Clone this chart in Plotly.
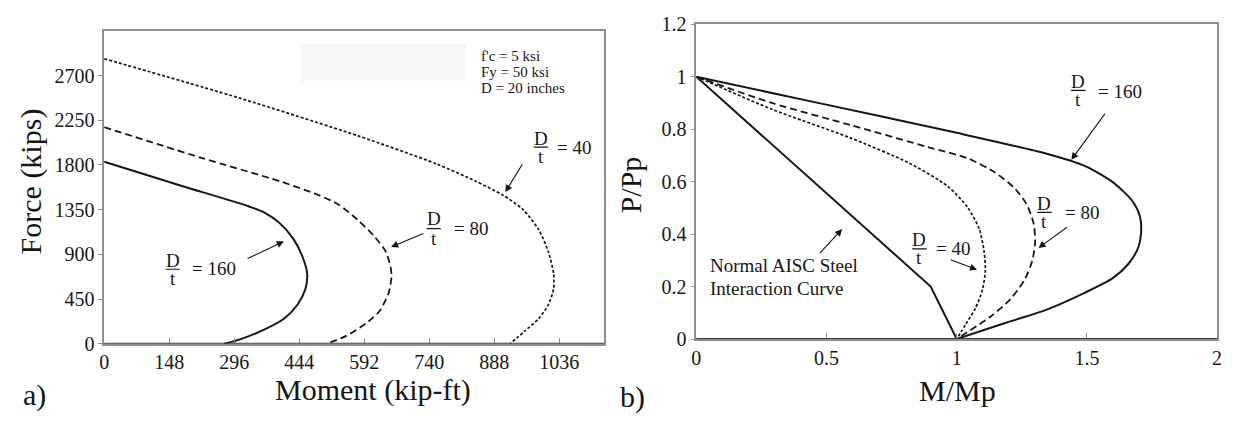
import plotly.graph_objects as go

W, H = 1235, 423
SERIF = "Liberation Serif, Times New Roman, serif"
INK = "#161616"
FRAME = "#8f8f8f"

# ---- panel a) : dimensional interaction curves ----
mom_160 = [0, 177, 328, 364, 400, 431, 451, 462, 458, 440, 409, 364, 311, 273]
frc_160 = [1832, 1589, 1385, 1322, 1212, 1054, 881, 708, 551, 393, 252, 142, 47, 0]

mom_80 = [0, 221, 400, 489, 534, 578, 614, 641, 652, 654, 648, 627, 596, 551, 506]
frc_80 = [2181, 1872, 1636, 1495, 1400, 1243, 1086, 928, 771, 677, 519, 330, 205, 79, 0]

mom_40 = [0, 311, 578, 757, 846, 908, 953, 989, 1011, 1023, 1023, 1011, 989, 957, 924]
frc_40 = [2870, 2470, 2093, 1810, 1636, 1495, 1353, 1149, 928, 708, 551, 393, 252, 126, 0]

a_xticks = [0, 148, 296, 444, 592, 740, 888, 1036]
a_yticks = [0, 450, 900, 1350, 1800, 2250, 2700]

# ---- panel b) : normalised interaction curves ----
m_aisc = [0, 0.9, 1.0]
p_aisc = [1.0, 0.2, 0.0]

m_n160 = [0, 0.44, 1.0, 1.343, 1.493, 1.598, 1.674, 1.704, 1.708, 1.696, 1.659, 1.598, 1.493, 1.343, 1.192, 1.0]
p_n160 = [1.0, 0.906, 0.786, 0.707, 0.659, 0.599, 0.527, 0.466, 0.406, 0.346, 0.286, 0.231, 0.177, 0.111, 0.063, 0.0]

m_n80 = [0, 0.29, 0.591, 0.892, 1.042, 1.147, 1.222, 1.268, 1.295, 1.301, 1.29, 1.26, 1.207, 1.132, 1.0]
p_n80 = [1.0, 0.9, 0.816, 0.731, 0.689, 0.635, 0.575, 0.514, 0.442, 0.37, 0.298, 0.225, 0.153, 0.087, 0.0]

m_n40 = [0, 0.29, 0.591, 0.817, 0.967, 1.042, 1.087, 1.105, 1.11, 1.099, 1.072, 1.035, 1.0]
p_n40 = [1.0, 0.876, 0.767, 0.671, 0.581, 0.502, 0.418, 0.334, 0.261, 0.189, 0.117, 0.057, 0.0]

b_xticks = [0, 0.5, 1, 1.5, 2]
b_xlabels = ["0", "0.5", "1", "1.5", "2"]
b_yticks = [0, 0.2, 0.4, 0.6, 0.8, 1.0, 1.2]
b_ylabels = ["0", "0.2", "0.4", "0.6", "0.8", "1", "1.2"]

material_notes = ["f'c = 5 ksi", "Fy = 50 ksi", "D = 20 inches"]
aisc_note = ["Normal AISC Steel", "Interaction Curve"]

fig = go.Figure()

solid = dict(color=INK, width=2.0)
dashed = dict(color=INK, width=1.8, dash="7px,4px")
dotted = dict(color=INK, width=1.7, dash="3px,2px")

def curve(x, y, line, xa, ya, spline=True):
    fig.add_trace(go.Scatter(
        x=x, y=y, mode="lines", xaxis=xa, yaxis=ya,
        line=dict(shape="spline", smoothing=0.7, **line) if spline else line,
        hoverinfo="skip", showlegend=False))

curve(mom_160, frc_160, solid, "x", "y")
curve(mom_80, frc_80, dashed, "x", "y")
curve(mom_40, frc_40, dotted, "x", "y")

curve(m_aisc, p_aisc, solid, "x2", "y2", spline=False)
curve(m_n160, p_n160, solid, "x2", "y2")
curve(m_n80, p_n80, dashed, "x2", "y2")
curve(m_n40, p_n40, dotted, "x2", "y2")

# plot-area boxes in pixels
A_L, A_R, A_T, A_B = 100, 604, 21, 351
B_L, B_R, B_T, B_B = 697, 1222, 14, 346

tickfont = dict(family=SERIF, size=20, color=INK)

def axis_common():
    return dict(showgrid=False, zeroline=False, showline=True, linecolor=FRAME,
                linewidth=1.5, mirror=True, tickfont=tickfont, tickcolor=FRAME)

fig.update_layout(
    width=W, height=H, margin=dict(l=0, r=0, t=0, b=0),
    paper_bgcolor="white", plot_bgcolor="white",
    xaxis=dict(domain=[A_L / W, A_R / W], range=[0, 1138], anchor="y",
               tickmode="array", tickvals=a_xticks, ticks="inside", ticklen=6,
               **axis_common()),
    yaxis=dict(domain=[1 - A_B / H, 1 - A_T / H], range=[0, 3150], anchor="x",
               tickmode="array", tickvals=a_yticks, ticks="outside", ticklen=4,
               **axis_common()),
    xaxis2=dict(domain=[B_L / W, B_R / W], range=[0, 2], anchor="y2",
                tickmode="array", tickvals=b_xticks, ticktext=b_xlabels,
                ticks="inside", ticklen=6, **axis_common()),
    yaxis2=dict(domain=[1 - B_B / H, 1 - B_T / H], range=[0, 1.2], anchor="x2",
                tickmode="array", tickvals=b_yticks, ticktext=b_ylabels,
                ticks="outside", ticklen=4, **axis_common()),
)

shapes = []
# darker baseline on both panels
for xr, yr in (("x domain", "y"), ("x2 domain", "y2")):
    shapes.append(dict(type="line", xref=xr, yref=yr, x0=0, x1=1, y0=0, y1=0,
                       line=dict(color="#3a3a3a", width=2), layer="above"))
# faint patch behind the material notes
shapes.append(dict(type="rect", xref="paper", yref="paper",
                   x0=298 / W, x1=465 / W, y0=1 - 75 / H, y1=1 - 35 / H,
                   fillcolor="#f7f7f7", line=dict(width=0), layer="below"))

annotations = []

def txt(x, y, text, size, xref="paper", yref="paper", xanchor="center", angle=0):
    annotations.append(dict(x=x, y=y, xref=xref, yref=yref, text=text, showarrow=False,
                            xanchor=xanchor, yanchor="middle", textangle=angle,
                            borderpad=0,
                            font=dict(family=SERIF, size=size, color=INK)))

def frac_label(xa, ya, x, y_num, y_den, half, value, xv, yv, size):
    txt(x, y_num, "D", size, xa, ya)
    txt(x, y_den, "t", size, xa, ya)
    ym = (y_num + y_den) / 2
    shapes.append(dict(type="line", xref=xa, yref=ya, x0=x - half, x1=x + half,
                       y0=ym, y1=ym, line=dict(color=INK, width=1.2)))
    txt(xv, yv, value, size, xa, ya)

def arrow(xa, ya, head, tail):
    annotations.append(dict(x=head[0], y=head[1], ax=tail[0], ay=tail[1],
                            xref=xa, yref=ya, axref=xa, ayref=ya, text="",
                            showarrow=True, arrowhead=2, arrowsize=1.3,
                            arrowwidth=1.1, arrowcolor=INK, standoff=0))

# panel a) labels
frac_label("x", "y", 156, 840, 660, 16, "= 160", 251, 754, 19)
arrow("x", "y", (409, 1031), (323, 850))
frac_label("x", "y", 750, 1265, 1055, 16, "= 80", 834, 1160, 19)
arrow("x", "y", (653, 974), (730, 1117))
frac_label("x", "y", 994, 2070, 1890, 16, "= 40", 1069, 1980, 19)
arrow("x", "y", (913, 1527), (954, 1823))

for i, line in enumerate(material_notes):
    txt(479 / W, 1 - (47 + 17 * i) / H, line, 15, xanchor="left")

# panel b) labels
frac_label("x2", "y2", 1.467, 0.982, 0.914, 0.028, "= 160", 1.627, 0.945, 19)
arrow("x2", "y2", (1.440, 0.683), (1.573, 0.864))
frac_label("x2", "y2", 1.337, 0.517, 0.448, 0.028, "= 80", 1.480, 0.483, 19)
arrow("x2", "y2", (1.314, 0.347), (1.429, 0.430))
frac_label("x2", "y2", 0.857, 0.378, 0.309, 0.028, "= 40", 0.985, 0.345, 19)
arrow("x2", "y2", (1.078, 0.264), (0.971, 0.304))

txt(710 / W, 1 - 268 / H, aisc_note[0], 19, xanchor="left")
txt(710 / W, 1 - 293 / H, aisc_note[1], 19, xanchor="left")
arrow("x2", "y2", (0.56, 0.419), (0.469, 0.322))

# axis titles and panel tags
txt(26 / W, 1 - 180 / H, "Force (kips)", 30, angle=-90)
txt(371 / W, 1 - 400 / H, "Moment (kip-ft)", 30)
txt(631 / W, 1 - 183 / H, "P/Pp", 30, angle=-90)
txt(960 / W, 1 - 400 / H, "M/Mp", 30)
txt(30 / W, 1 - 405 / H, "a)", 30)
txt(633 / W, 1 - 407 / H, "b)", 30)

fig.update_layout(shapes=shapes, annotations=annotations)
fig.write_html("out.html")
